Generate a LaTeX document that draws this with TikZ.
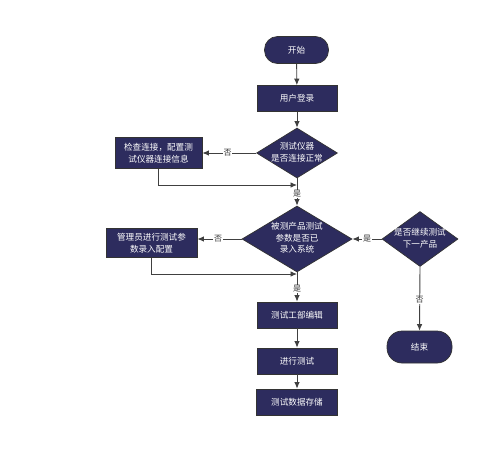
\documentclass[tikz,border=0pt]{standalone}
\usepackage{fontspec}
\newfontfamily\cjk{Noto Sans CJK SC}
\usetikzlibrary{shapes.geometric,arrows.meta}
\definecolor{boxnavy}{RGB}{45,44,94}
\definecolor{edgegray}{RGB}{64,64,64}
\newcommand{\dtext}[1]{\makebox[0pt]{\begin{tabular}{@{}c@{}}#1\end{tabular}}}

\begin{document}
\begin{tikzpicture}[x=1pt,y=-1pt,>={Latex[length=6.5pt,width=5.5pt]},
    font=\cjk\fontsize{8.6}{11.5}\selectfont,
    base/.style={draw=black!80,line width=0.7pt,fill=boxnavy,text=white,
        align=center,inner sep=0pt},
    procbox/.style={base,rectangle,minimum width=#1,minimum height=26pt},
    procbox/.default=80pt,
    termbox/.style={base,rectangle,rounded corners=13pt,
        minimum width=64pt,minimum height=27pt},
    decision/.style={base,diamond},
    link/.style={->,draw=edgegray,line width=0.9pt},
    yesno/.style={fill=white,inner sep=0.8pt,text=black!80,
        font=\cjk\fontsize{8}{9}\selectfont}]
    \useasboundingbox (0,0) rectangle (497,456);

    % main column
    \node[termbox] (start) at (296.5,50) {开始};
    \node[procbox] (login) at (297,98.5) {用户登录};
    \node[decision,minimum width=81pt,minimum height=50pt] (d1) at (297,153)
        {\dtext{测试仪器\\是否连接正常}};
    \node[decision,minimum width=110pt,minimum height=66pt] (d2) at (297,239)
        {\dtext{被测产品测试\\参数是否已\\录入系统}};
    \node[procbox] (edit) at (297,315) {测试工部编辑};
    \node[procbox] (run) at (297,361) {进行测试};
    \node[procbox=81pt] (save) at (297,402) {测试数据存储};

    % side boxes
    \node[procbox=87pt,minimum height=31pt] (chk) at (158.5,153)
        {检查连接，配置测\\试仪器连接信息};
    \node[procbox=91pt,minimum height=29pt] (adm) at (151.5,243)
        {管理员进行测试参\\数录入配置};
    \node[decision,minimum width=76pt,minimum height=55pt] (d3) at (420,239)
        {\dtext{是否继续测试\\下一产品}};
    \node[termbox,minimum width=65pt,minimum height=32pt,rounded corners=15pt]
        (stop) at (419.5,347) {结束};

    \coordinate (j1) at (297,185);
    \coordinate (j2) at (297,274);

    \draw[link] (start) -- (login);
    \draw[link] (login) -- (d1);
    \draw[link] (d1.west) -- node[yesno,pos=0.53]{否} (chk.east);
    \draw[link] (chk.south) |- (j1);
    \draw[link] (d1.south) -- node[yesno,pos=0.57]{是} (d2.north);
    \draw[link] (d2.west) -- node[yesno,pos=0.53]{否} (adm.east |- d2.west);
    \draw[link] (adm.south) |- (j2);
    \draw[link] (d2.south) -- node[yesno,pos=0.57]{是} (edit.north);
    \draw[link] (edit) -- (run);
    \draw[link] (run) -- (save);
    \draw[link] (d3.west) -- node[yesno,pos=0.5]{是} (d2.east);
    \draw[link] (d3.south) -- node[yesno,pos=0.52]{否} (stop.north);
\end{tikzpicture}
\end{document}
